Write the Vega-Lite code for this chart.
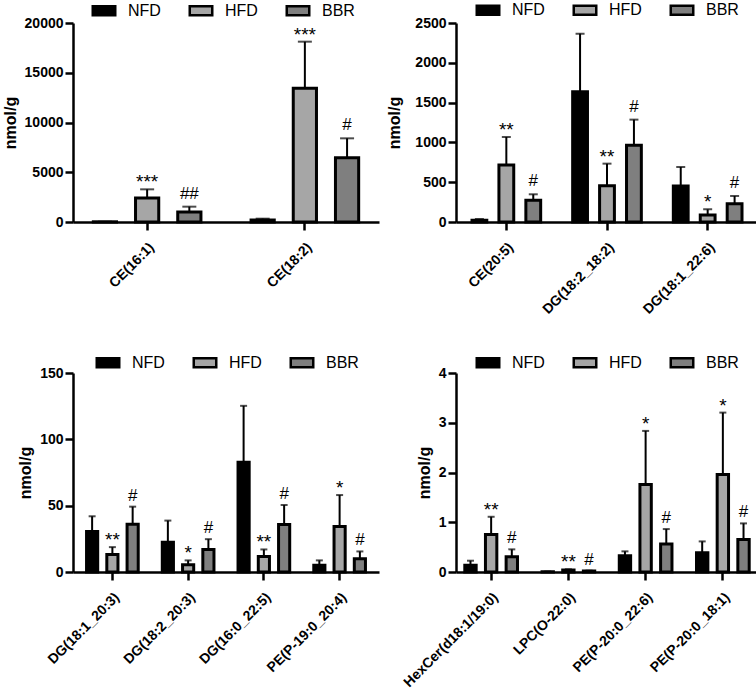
{
  "$schema": "https://vega.github.io/schema/vega-lite/v6.json",
  "padding": {"left": 2, "top": 1, "right": 1, "bottom": 1},
  "config": {
    "font": "Liberation Sans",
    "view": {"stroke": null},
    "axis": {"domainColor": "#000", "domainWidth": 2.5, "tickColor": "#000", "tickWidth": 2.5, "tickSize": 8, "labelColor": "#000", "labelFont": "Liberation Sans", "labelFontWeight": "bold", "labelFontSize": 14, "labelPadding": 2, "labelOverlap": false, "titleFont": "Liberation Sans", "titleFontWeight": "bold", "titleFontSize": 16, "titleColor": "#000", "titlePadding": 6, "grid": false},
    "axisX": {"labelAngle": -45, "labelAlign": "right", "labelBaseline": "top", "labelPadding": 10, "labelOffset": 0},
    "legend": {"title": null, "orient": "none", "direction": "horizontal", "gridAlign": "all", "symbolType": "M-1.5,-0.6H1.5V0.6H-1.5Z", "symbolSize": 225, "symbolStrokeColor": "#000", "symbolStrokeWidth": 2.5, "labelFont": "Liberation Sans", "labelFontSize": 16, "labelColor": "#000", "labelOffset": 15, "columnPadding": 23, "padding": 0},
    "text": {"font": "Liberation Sans", "fontSize": 17, "color": "#000"}
  },
  "datasets": {
    "p1": [
      {"lipid": "CE(16:1)", "group": "NFD", "mean": 20, "upper": 30, "sig": ""},
      {"lipid": "CE(16:1)", "group": "HFD", "mean": 2412, "upper": 3283, "sig": "***"},
      {"lipid": "CE(16:1)", "group": "BBR", "mean": 1005, "upper": 1541, "sig": "##"},
      {"lipid": "CE(18:2)", "group": "NFD", "mean": 200, "upper": 335, "sig": ""},
      {"lipid": "CE(18:2)", "group": "HFD", "mean": 13434, "upper": 18124, "sig": "***"},
      {"lipid": "CE(18:2)", "group": "BBR", "mean": 6466, "upper": 8409, "sig": "#"}
    ],
    "p2": [
      {"lipid": "CE(20:5)", "group": "NFD", "mean": 21, "upper": 38, "sig": ""},
      {"lipid": "CE(20:5)", "group": "HFD", "mean": 716, "upper": 1068, "sig": "**"},
      {"lipid": "CE(20:5)", "group": "BBR", "mean": 272, "upper": 348, "sig": "#"},
      {"lipid": "DG(18:2_18:2)", "group": "NFD", "mean": 1637, "upper": 2366, "sig": ""},
      {"lipid": "DG(18:2_18:2)", "group": "HFD", "mean": 456, "upper": 733, "sig": "**"},
      {"lipid": "DG(18:2_18:2)", "group": "BBR", "mean": 963, "upper": 1286, "sig": "#"},
      {"lipid": "DG(18:1_22:6)", "group": "NFD", "mean": 452, "upper": 691, "sig": ""},
      {"lipid": "DG(18:1_22:6)", "group": "HFD", "mean": 88, "upper": 159, "sig": "*"},
      {"lipid": "DG(18:1_22:6)", "group": "BBR", "mean": 230, "upper": 327, "sig": "#"}
    ],
    "p3": [
      {"lipid": "DG(18:1_20:3)", "group": "NFD", "mean": 30.5, "upper": 42, "sig": ""},
      {"lipid": "DG(18:1_20:3)", "group": "HFD", "mean": 13.25, "upper": 18.75, "sig": "**"},
      {"lipid": "DG(18:1_20:3)", "group": "BBR", "mean": 36, "upper": 49.25, "sig": "#"},
      {"lipid": "DG(18:2_20:3)", "group": "NFD", "mean": 22.5, "upper": 38.75, "sig": ""},
      {"lipid": "DG(18:2_20:3)", "group": "HFD", "mean": 5.5, "upper": 8.75, "sig": "*"},
      {"lipid": "DG(18:2_20:3)", "group": "BBR", "mean": 17, "upper": 24.75, "sig": "#"},
      {"lipid": "DG(16:0_22:5)", "group": "NFD", "mean": 82.75, "upper": 125.25, "sig": ""},
      {"lipid": "DG(16:0_22:5)", "group": "HFD", "mean": 11.75, "upper": 17, "sig": "**"},
      {"lipid": "DG(16:0_22:5)", "group": "BBR", "mean": 35.75, "upper": 50.5, "sig": "#"},
      {"lipid": "PE(P-19:0_20:4)", "group": "NFD", "mean": 5, "upper": 8.75, "sig": ""},
      {"lipid": "PE(P-19:0_20:4)", "group": "HFD", "mean": 34.25, "upper": 58, "sig": "*"},
      {"lipid": "PE(P-19:0_20:4)", "group": "BBR", "mean": 10, "upper": 15.5, "sig": "#"}
    ],
    "p4": [
      {"lipid": "HexCer(d18:1/19:0)", "group": "NFD", "mean": 0.134, "upper": 0.227, "sig": ""},
      {"lipid": "HexCer(d18:1/19:0)", "group": "HFD", "mean": 0.756, "upper": 1.11, "sig": "**"},
      {"lipid": "HexCer(d18:1/19:0)", "group": "BBR", "mean": 0.308, "upper": 0.455, "sig": "#"},
      {"lipid": "LPC(O-22:0)", "group": "NFD", "mean": 0.005, "upper": 0.008, "sig": ""},
      {"lipid": "LPC(O-22:0)", "group": "HFD", "mean": 0.04, "upper": 0.054, "sig": "**"},
      {"lipid": "LPC(O-22:0)", "group": "BBR", "mean": 0.02, "upper": 0.027, "sig": "#"},
      {"lipid": "PE(P-20:0_22:6)", "group": "NFD", "mean": 0.328, "upper": 0.415, "sig": ""},
      {"lipid": "PE(P-20:0_22:6)", "group": "HFD", "mean": 1.76, "upper": 2.836, "sig": "*"},
      {"lipid": "PE(P-20:0_22:6)", "group": "BBR", "mean": 0.562, "upper": 0.863, "sig": "#"},
      {"lipid": "PE(P-20:0_18:1)", "group": "NFD", "mean": 0.388, "upper": 0.615, "sig": ""},
      {"lipid": "PE(P-20:0_18:1)", "group": "HFD", "mean": 1.96, "upper": 3.204, "sig": "*"},
      {"lipid": "PE(P-20:0_18:1)", "group": "BBR", "mean": 0.655, "upper": 0.977, "sig": "#"}
    ]
  },
  "columns": 2,
  "align": "all",
  "bounds": "flush",
  "spacing": {"column": 77, "row": 151},
  "resolve": {"scale": {"x": "independent", "y": "independent", "xOffset": "independent", "color": "independent"}, "legend": {"color": "independent"}},
  "concat": [
    {
      "width": 306, "height": 199,
      "data": {"name": "p1"},
      "encoding": {
        "x": {"field": "lipid", "type": "nominal", "sort": null, "scale": {"paddingInner": 0.2, "paddingOuter": 0.07}, "axis": {"title": null}},
        "xOffset": {"field": "group", "type": "nominal", "sort": ["NFD", "HFD", "BBR"], "scale": {"paddingInner": 0.45, "paddingOuter": 0.22}}
      },
      "layer": [
        {"mark": {"type": "bar", "stroke": "#000", "strokeWidth": 3},
         "encoding": {
           "y": {"field": "mean", "type": "quantitative", "title": "nmol/g", "scale": {"domain": [0, 20000], "nice": false}, "axis": {"values": [0, 5000, 10000, 15000, 20000], "format": "d", "labelOverlap": false}},
           "color": {"field": "group", "type": "nominal", "sort": ["NFD", "HFD", "BBR"], "scale": {"domain": ["NFD", "HFD", "BBR"], "range": ["#000000", "#a6a6a6", "#7f7f7f"]}, "legend": {"legendX": 22, "legendY": -21.5}}
         }},
        {"mark": {"type": "rule", "color": "#000", "strokeWidth": 2}, "encoding": {"y": {"field": "mean", "type": "quantitative", "title": "nmol/g"}, "y2": {"field": "upper"}}},
        {"mark": {"type": "tick", "color": "#000", "thickness": 2, "size": 14}, "encoding": {"y": {"field": "upper", "type": "quantitative", "title": "nmol/g"}}},
        {"transform": [{"filter": "indexof(datum.sig, '*') >= 0"}], "mark": {"type": "text", "dy": -1, "baseline": "alphabetic", "fontSize": 19}, "encoding": {"y": {"field": "upper", "type": "quantitative", "title": "nmol/g"}, "text": {"field": "sig"}}},
        {"transform": [{"filter": "indexof(datum.sig, '#') >= 0"}], "mark": {"type": "text", "dy": -8, "baseline": "alphabetic"}, "encoding": {"y": {"field": "upper", "type": "quantitative", "title": "nmol/g"}, "text": {"field": "sig"}}}
      ]
    },
    {
      "width": 302, "height": 199,
      "data": {"name": "p2"},
      "encoding": {
        "x": {"field": "lipid", "type": "nominal", "sort": null, "scale": {"paddingInner": 0.2, "paddingOuter": 0.1}, "axis": {"title": null}},
        "xOffset": {"field": "group", "type": "nominal", "sort": ["NFD", "HFD", "BBR"], "scale": {"paddingInner": 0.45, "paddingOuter": 0.22}}
      },
      "layer": [
        {"mark": {"type": "bar", "stroke": "#000", "strokeWidth": 3},
         "encoding": {
           "y": {"field": "mean", "type": "quantitative", "title": "nmol/g", "scale": {"domain": [0, 2500], "nice": false}, "axis": {"values": [0, 500, 1000, 1500, 2000, 2500], "tickCount": 6, "format": "d", "labelOverlap": false, "titlePadding": 12}},
           "color": {"field": "group", "type": "nominal", "sort": ["NFD", "HFD", "BBR"], "scale": {"domain": ["NFD", "HFD", "BBR"], "range": ["#000000", "#a6a6a6", "#7f7f7f"]}, "legend": {"legendX": 23, "legendY": -22}}
         }},
        {"mark": {"type": "rule", "color": "#000", "strokeWidth": 2}, "encoding": {"y": {"field": "mean", "type": "quantitative", "title": "nmol/g"}, "y2": {"field": "upper"}}},
        {"mark": {"type": "tick", "color": "#000", "thickness": 2, "size": 9}, "encoding": {"y": {"field": "upper", "type": "quantitative", "title": "nmol/g"}}},
        {"transform": [{"filter": "indexof(datum.sig, '*') >= 0"}], "mark": {"type": "text", "dy": -1, "baseline": "alphabetic", "fontSize": 19}, "encoding": {"y": {"field": "upper", "type": "quantitative", "title": "nmol/g"}, "text": {"field": "sig"}}},
        {"transform": [{"filter": "indexof(datum.sig, '#') >= 0"}], "mark": {"type": "text", "dy": -8, "baseline": "alphabetic"}, "encoding": {"y": {"field": "upper", "type": "quantitative", "title": "nmol/g"}, "text": {"field": "sig"}}}
      ]
    },
    {
      "width": 306, "height": 199,
      "data": {"name": "p3"},
      "encoding": {
        "x": {"field": "lipid", "type": "nominal", "sort": null, "scale": {"paddingInner": 0.2, "paddingOuter": 0.12}, "axis": {"title": null}},
        "xOffset": {"field": "group", "type": "nominal", "sort": ["NFD", "HFD", "BBR"], "scale": {"paddingInner": 0.45, "paddingOuter": 0.22}}
      },
      "layer": [
        {"mark": {"type": "bar", "stroke": "#000", "strokeWidth": 3},
         "encoding": {
           "y": {"field": "mean", "type": "quantitative", "title": "nmol/g", "scale": {"domain": [0, 150], "nice": false}, "axis": {"values": [0, 50, 100, 150], "format": "d", "labelOverlap": false}},
           "color": {"field": "group", "type": "nominal", "sort": ["NFD", "HFD", "BBR"], "scale": {"domain": ["NFD", "HFD", "BBR"], "range": ["#000000", "#a6a6a6", "#7f7f7f"]}, "legend": {"legendX": 26, "legendY": -19.5}}
         }},
        {"mark": {"type": "rule", "color": "#000", "strokeWidth": 2}, "encoding": {"y": {"field": "mean", "type": "quantitative", "title": "nmol/g"}, "y2": {"field": "upper"}}},
        {"mark": {"type": "tick", "color": "#000", "thickness": 2, "size": 7}, "encoding": {"y": {"field": "upper", "type": "quantitative", "title": "nmol/g"}}},
        {"transform": [{"filter": "indexof(datum.sig, '*') >= 0"}], "mark": {"type": "text", "dy": -1, "baseline": "alphabetic", "fontSize": 19}, "encoding": {"y": {"field": "upper", "type": "quantitative", "title": "nmol/g"}, "text": {"field": "sig"}}},
        {"transform": [{"filter": "indexof(datum.sig, '#') >= 0"}], "mark": {"type": "text", "dy": -6, "baseline": "alphabetic"}, "encoding": {"y": {"field": "upper", "type": "quantitative", "title": "nmol/g"}, "text": {"field": "sig"}}}
      ]
    },
    {
      "width": 302, "height": 199,
      "data": {"name": "p4"},
      "encoding": {
        "x": {"field": "lipid", "type": "nominal", "sort": null, "scale": {"paddingInner": 0.2, "paddingOuter": 0.055}, "axis": {"title": null}},
        "xOffset": {"field": "group", "type": "nominal", "sort": ["NFD", "HFD", "BBR"], "scale": {"paddingInner": 0.45, "paddingOuter": 0.22}}
      },
      "layer": [
        {"mark": {"type": "bar", "stroke": "#000", "strokeWidth": 3},
         "encoding": {
           "y": {"field": "mean", "type": "quantitative", "title": "nmol/g", "scale": {"domain": [0, 4], "nice": false}, "axis": {"values": [0, 1, 2, 3, 4], "format": "d", "labelOverlap": false}},
           "color": {"field": "group", "type": "nominal", "sort": ["NFD", "HFD", "BBR"], "scale": {"domain": ["NFD", "HFD", "BBR"], "range": ["#000000", "#a6a6a6", "#7f7f7f"]}, "legend": {"legendX": 23, "legendY": -19.5}}
         }},
        {"mark": {"type": "rule", "color": "#000", "strokeWidth": 2}, "encoding": {"y": {"field": "mean", "type": "quantitative", "title": "nmol/g"}, "y2": {"field": "upper"}}},
        {"mark": {"type": "tick", "color": "#000", "thickness": 2, "size": 7}, "encoding": {"y": {"field": "upper", "type": "quantitative", "title": "nmol/g"}}},
        {"transform": [{"filter": "indexof(datum.sig, '*') >= 0"}], "mark": {"type": "text", "dy": -1, "baseline": "alphabetic", "fontSize": 19}, "encoding": {"y": {"field": "upper", "type": "quantitative", "title": "nmol/g"}, "text": {"field": "sig"}}},
        {"transform": [{"filter": "indexof(datum.sig, '#') >= 0"}], "mark": {"type": "text", "dy": -6, "baseline": "alphabetic"}, "encoding": {"y": {"field": "upper", "type": "quantitative", "title": "nmol/g"}, "text": {"field": "sig"}}}
      ]
    }
  ]
}
